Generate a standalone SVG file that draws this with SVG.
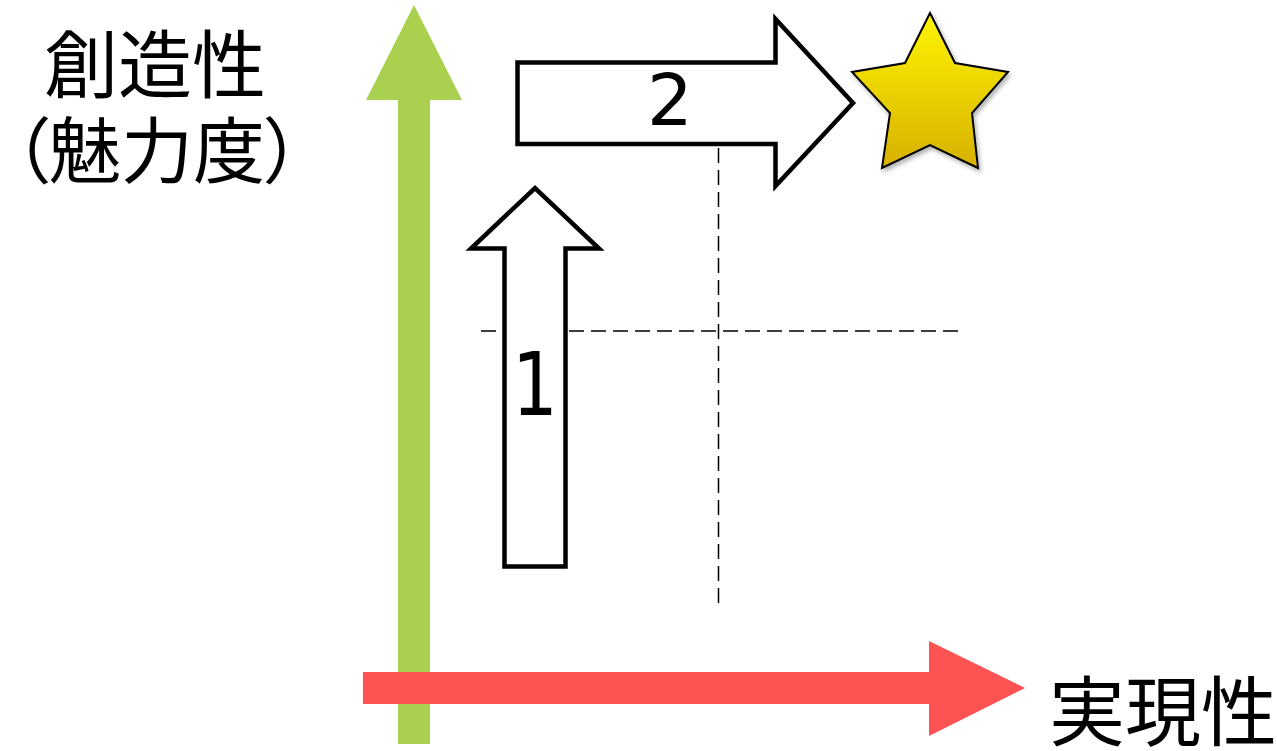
<svg xmlns="http://www.w3.org/2000/svg" width="1277" height="751" viewBox="0 0 1277 751">
<style>
.lbl{font-family:"Noto Sans CJK JP","Noto Sans",sans-serif;fill:#000;text-anchor:middle}
.num{font-family:"DejaVu Sans","Liberation Sans",sans-serif;fill:#000;text-anchor:middle}
.blk{fill:#fff;stroke:#000;stroke-width:4.5;stroke-linejoin:miter}
.dash{stroke:#000;stroke-width:1.5;stroke-dasharray:15 7;fill:none}
.palt{font-feature-settings:"palt"}
</style>
<defs>
<linearGradient id="starGrad" x1="0" y1="0" x2="0" y2="1">
<stop offset="0" stop-color="#FFF500"/>
<stop offset="1" stop-color="#D6B000"/>
</linearGradient>
<filter id="shadow" x="-20%" y="-20%" width="140%" height="140%">
<feDropShadow dx="2" dy="3" stdDeviation="2" flood-color="#000" flood-opacity="0.3"/>
</filter>
</defs>
<rect width="1277" height="751" fill="#fff"/>
<g id="guides">
<line class="dash" x1="481" y1="331" x2="958" y2="331"/>
<line class="dash" x1="718.5" y1="148" x2="718.5" y2="607"/>
</g>
<g id="axis-y">
<polygon points="398,744 398,100 366,100 414,5 462,100 430,100 430,744" fill="#A9D04F"/>
</g>
<g id="axis-x">
<polygon points="363,672 929,672 929,641 1025,688 929,736 929,704 363,704" fill="#FF5252"/>
</g>
<g id="arrow1">
<polygon class="blk" points="504.5,566.5 504.5,248.5 471,248.5 535,188 599,248.5 565.5,248.5 565.5,566.5"/>
<text class="num" transform="translate(535,415) scale(1,1.2)" font-size="72">1</text>
</g>
<g id="arrow2">
<polygon class="blk" points="517.5,62.5 775.5,62.5 775.5,19 853,103 775.5,186 775.5,144 517.5,144"/>
<text class="num" x="670" y="125" font-size="72">2</text>
</g>
<g id="star">
<polygon points="930,13 955,63 1008,72 972,113 978,168 930,145 882,168 890,113 852,72 905,63" fill="url(#starGrad)" stroke="#000" stroke-width="2" stroke-linejoin="miter" filter="url(#shadow)"/>
</g>
<g id="label-creativity">
<text class="lbl" x="155" y="92" font-size="74">創造性</text>
<text class="lbl palt" x="49" y="177" font-size="72" style="text-anchor:end">（</text>
<text class="lbl" x="157" y="177" font-size="72">魅力度</text>
<text class="lbl palt" x="265" y="177" font-size="72" style="text-anchor:start">）</text>
</g>
<g id="label-feasibility">
<text class="lbl" x="1163" y="740" font-size="76">実現性</text>
</g>
</svg>
